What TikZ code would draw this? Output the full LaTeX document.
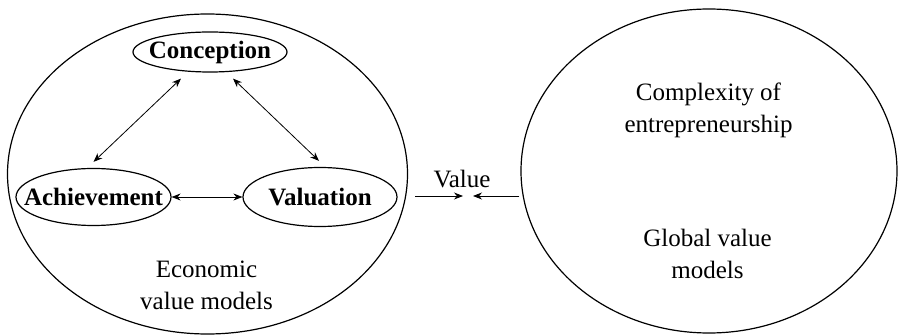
\documentclass[tikz,border=0pt]{standalone}
\usepackage{fontspec}
\setmainfont{Liberation Serif}
\usetikzlibrary{arrows.meta,positioning,calc,shapes.geometric}

\begin{document}
\begin{tikzpicture}[x=0.5pt,y=-0.5pt,
    >={Stealth[length=4.5pt,width=3.5pt]},
    every node/.style={font=\fontsize{12.5}{16}\selectfont},
    model/.style={ellipse, draw, line width=0.6pt, inner sep=0pt},
    part/.style={ellipse, draw, line width=0.6pt, inner xsep=-12pt, inner ysep=0pt,
      font=\fontsize{12.5}{16}\selectfont\bfseries},
    link/.style={<->, line width=0.4pt},
    flow/.style={->, line width=0.4pt}]
    \useasboundingbox (0,0) rectangle (899,336);

    % Outer models
    \node[model, minimum width=200pt, minimum height=160pt] (eco) at (207.5,174) {};
    \node[model, minimum width=188pt, minimum height=162pt] (glob) at (709,171) {};

    % Stages of the economic model
    \node[part, minimum width=77pt, minimum height=20pt] (conc) at (210,52) {Conception};
    \node[part, minimum width=77.5pt, minimum height=28.5pt] (ach) at (93.5,197) {Achievement};
    \node[part, minimum width=77pt, minimum height=29.5pt] (val) at (320,197) {Valuation};

    % Links between stages
    \draw[link] ($(conc.south)+(-29,6)$) -- ($(ach.north)+(0,-6)$);
    \draw[link] ($(conc.south)+(23,6)$) -- ($(val.north)+(-1,-6)$);
    \draw[link] (ach) -- (val);

    % Texts of the models
    \node[align=center] (ecotxt) at (206.5,285) {Economic\\value models};
    \node[align=center] (cplx) at (708.5,110) {Complexity of\\entrepreneurship};
    \node[align=center] (globtxt) at (707.5,254) {Global value\\models};

    % Value exchange
    \coordinate (vmeet) at (468,196);
    \draw[flow] ($(eco.east |- vmeet)+(7,0)$) -- ($(vmeet)+(-5,0)$);
    \draw[flow] ($(glob.west |- vmeet)+(-1,0)$) -- ($(vmeet)+(5,0)$);
    \node[anchor=base] (vlab) at (462,188) {Value};
\end{tikzpicture}
\end{document}
